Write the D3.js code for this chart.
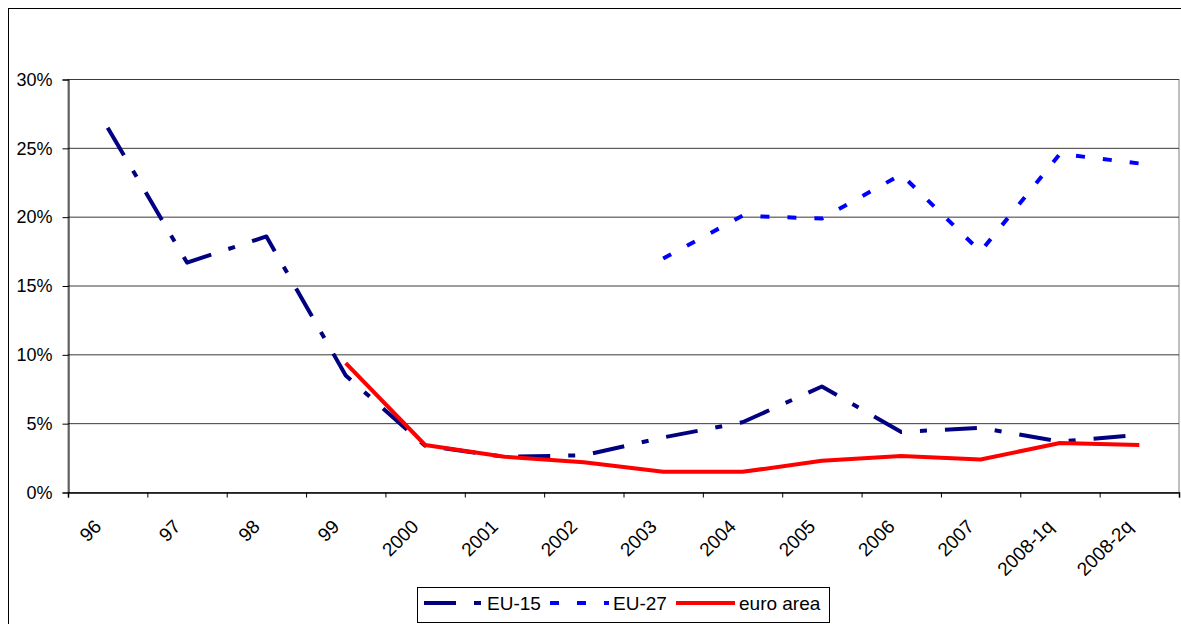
<!DOCTYPE html>
<html>
<head>
<meta charset="utf-8">
<script src="https://cdn.jsdelivr.net/npm/d3@7"></script>
<style>
  html, body { margin: 0; padding: 0; background: #fff; }
  svg { display: block; font-family: Arial, "Liberation Sans", sans-serif; }
</style>
</head>
<body>
<svg id="chart" width="1181" height="624"></svg>
<script>
// ---- data ----
const categories = ["96", "97", "98", "99", "2000", "2001", "2002", "2003", "2004", "2005", "2006", "2007", "2008-1q", "2008-2q"];
const eu15 = [26.5, 16.7, 18.6, 8.5, 3.4, 2.6, 2.7, 4.0, 5.1, 7.7, 4.4, 4.7, 3.7, 4.2];
const eu27 = [null, null, null, null, null, null, null, 17.0, 20.1, 19.9, 23.1, 17.5, 24.6, 23.9];
const euroArea = [null, null, null, 9.4, 3.45, 2.6, 2.2, 1.5, 1.5, 2.3, 2.65, 2.4, 3.6, 3.45];
const yTicks = [0, 5, 10, 15, 20, 25, 30];
const seriesNames = ["EU-15", "EU-27", "euro area"];

// ---- layout ----
const svg = d3.select("#chart");
const pLeft = 68, pRight = 1179, pTop = 79.5, pBottom = 492.5;

// outer chart border
svg.append("rect").attr("x", 8.5).attr("y", 8.5).attr("width", 1300).attr("height", 700)
  .attr("fill", "#fff").attr("stroke", "#000").attr("stroke-width", 1);

const xi = d3.scaleLinear().domain([0, categories.length]).range([pLeft, pRight]);
const xc = i => xi(i + 0.5);
const y = d3.scaleLinear().domain([0, 30]).range([pBottom, pTop]);

// plot area border (top/right gray)
svg.append("rect").attr("x", pLeft).attr("y", pTop).attr("width", pRight - pLeft).attr("height", pBottom - pTop)
  .attr("fill", "none").attr("stroke", "#808080").attr("stroke-width", 1);

// gridlines
svg.append("g").selectAll("line").data(yTicks.filter(d => d > 0)).join("line")
  .attr("x1", pLeft).attr("x2", pRight)
  .attr("y1", d => y(d)).attr("y2", d => y(d))
  .attr("stroke", "#3a3a3a").attr("stroke-width", 1);

// y axis
const yAxis = svg.append("g").attr("transform", `translate(${pLeft + 0.5},0)`)
  .call(d3.axisLeft(y).tickValues(yTicks).tickSize(6).tickPadding(10).tickFormat(d => d + "%"));
yAxis.select(".domain").attr("stroke", "#000");
yAxis.selectAll(".tick line").attr("stroke", "#000");
yAxis.selectAll("text").attr("font-size", 18).attr("font-family", "Arial, 'Liberation Sans', sans-serif").attr("fill", "#000");

// x axis (ticks at category boundaries)
const xAxis = svg.append("g").attr("transform", `translate(0,${pBottom})`)
  .call(d3.axisBottom(xi).tickValues(d3.range(categories.length + 1)).tickSize(5).tickFormat(""));
xAxis.select(".domain").attr("stroke", "#000").attr("stroke-width", 1.5);
xAxis.selectAll(".tick line").attr("stroke", "#000");

// x labels
svg.append("g").selectAll("text").data(categories).join("text")
  .attr("transform", (d, i) => `translate(${xc(i) - 10},523) rotate(-45)`)
  .attr("text-anchor", "end").attr("dy", "0.35em")
  .attr("font-size", 19).attr("fill", "#000")
  .text(d => d);

// lines
const styles = [
  { data: eu15, color: "#000080", dash: "32,18,7,18" },
  { data: eu27, color: "#0000FF", dash: "9,18" },
  { data: euroArea, color: "#FF0000", dash: null }
];
const line = d3.line().x(d => xc(d.i)).y(d => y(d.v));
styles.forEach(s => {
  const pts = s.data.map((v, i) => ({ i, v })).filter(p => p.v != null);
  svg.append("path")
    .attr("d", line(pts))
    .attr("fill", "none").attr("stroke", s.color).attr("stroke-width", 4)
    .attr("stroke-linejoin", "round")
    .attr("stroke-dasharray", s.dash);
});

// legend
const lg = svg.append("g");
lg.append("rect").attr("x", 417.5).attr("y", 587.5).attr("width", 412).attr("height", 35)
  .attr("fill", "#fff").attr("stroke", "#000").attr("stroke-width", 1);
const legendX = [487, 613, 739];
styles.forEach((s, i) => {
  lg.append("line").attr("x1", legendX[i] - 63).attr("x2", legendX[i] - 4)
    .attr("y1", 603).attr("y2", 603)
    .attr("stroke", s.color).attr("stroke-width", 4)
    .attr("stroke-dasharray", s.dash);
  lg.append("text").attr("x", legendX[i]).attr("y", 610)
    .attr("font-size", 19).attr("fill", "#000").text(seriesNames[i]);
});
</script>
</body>
</html>
